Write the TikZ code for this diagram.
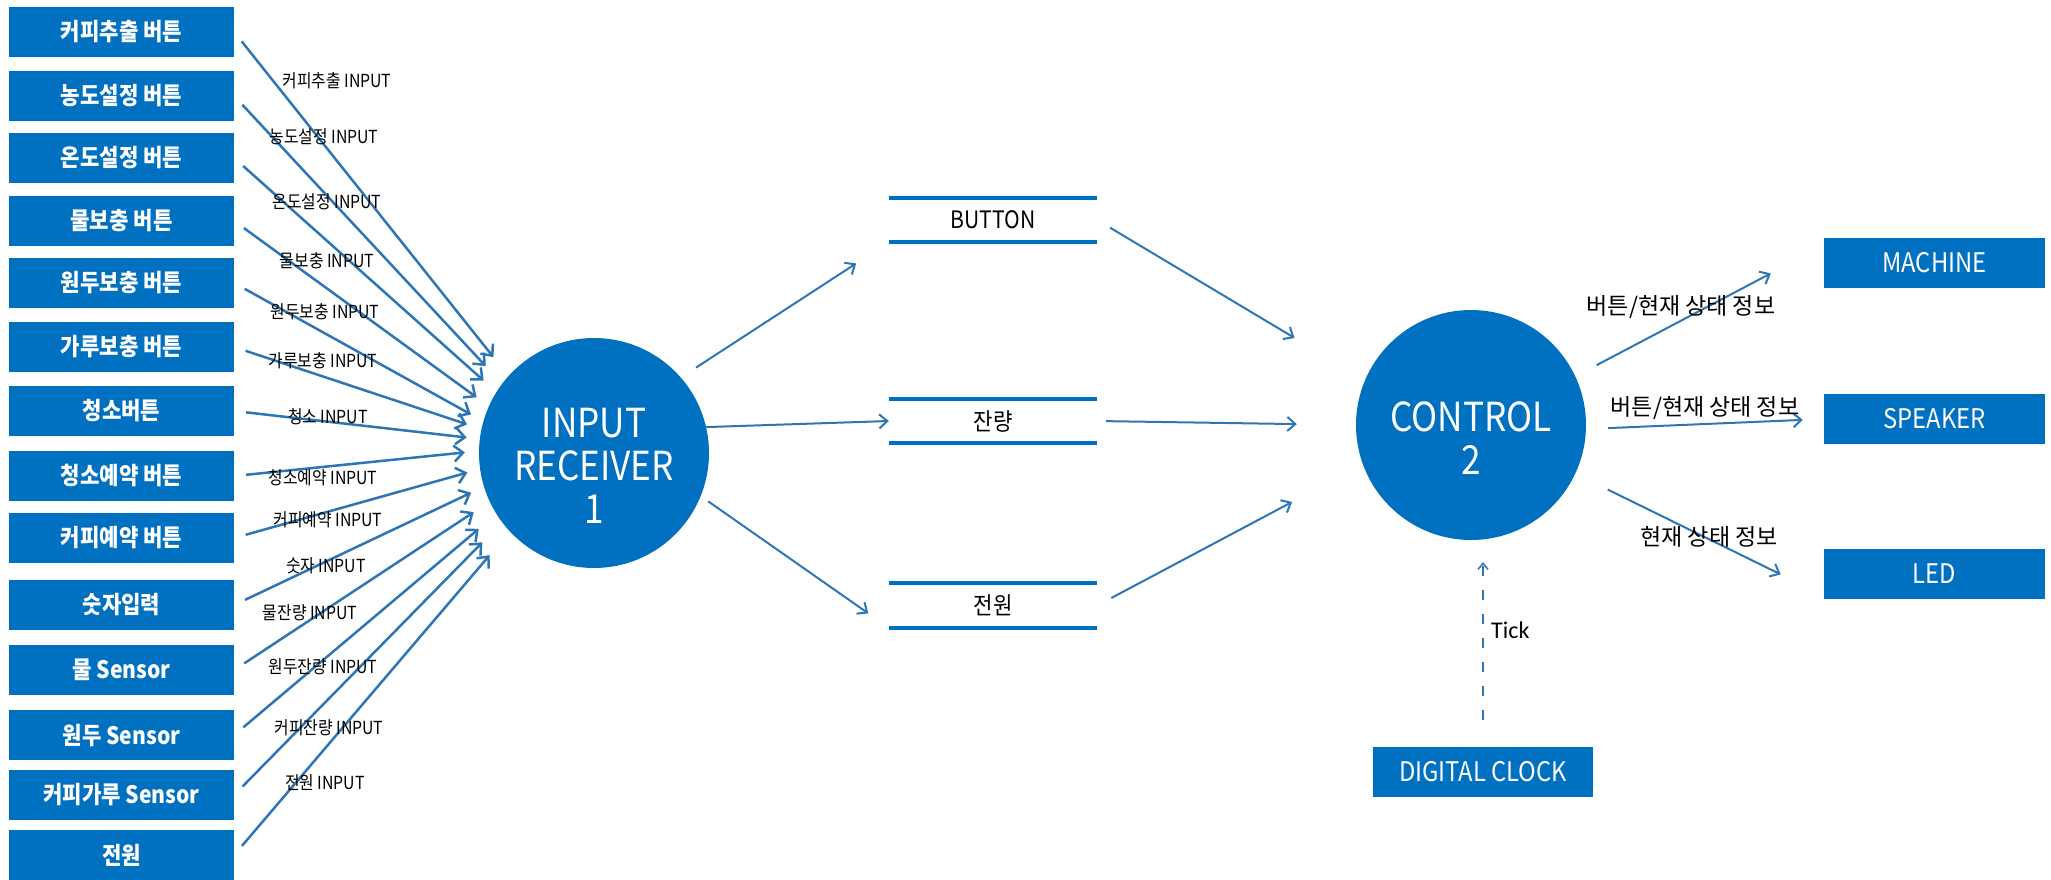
\documentclass[tikz,border=0pt]{standalone}
\usepackage{fontspec}
\setmainfont[FakeStretch=0.88]{Noto Sans CJK KR}
\newfontfamily\krwide{Noto Sans CJK KR}
\newfontfamily\tickfont{Carlito}
\usetikzlibrary{arrows.meta}
\usetikzlibrary{positioning}
\definecolor{boxblue}{RGB}{0,112,192}
\definecolor{arrowblue}{RGB}{46,117,182}

\tikzset{
  inbox/.style={fill=boxblue, text=white, minimum width=225pt, minimum height=50pt,
    inner sep=0pt, font=\fontsize{24}{26}\selectfont\bfseries},
  inlabel/.style={inner sep=0pt, font=\fontsize{18}{20}\selectfont},
  bubble/.style={circle, fill=boxblue, minimum size=230pt, inner sep=0pt},
  bubbletext/.style={text=white, align=center, yshift=-13pt, font=\fontsize{40}{43}\selectfont},
  store/.style={minimum width=208pt, minimum height=44pt, inner sep=0pt,
    font=\fontsize{24}{26}\selectfont},
  storeline/.style={boxblue, line width=4pt},
  outbox/.style={fill=boxblue, text=white, minimum width=221pt, minimum height=50pt,
    inner sep=0pt, font=\fontsize{27}{29}\selectfont},
  outlabel/.style={inner sep=0pt, font=\krwide\fontsize{23}{25}\selectfont},
  fan/.style={arrowblue, line width=2.5pt, -{Straight Barb[length=9pt, width=16pt]}},
  flow/.style={arrowblue, line width=2pt, -{Straight Barb[length=8pt, width=14pt]}},
  tickflow/.style={arrowblue, line width=1.5pt, dash pattern=on 10pt off 14pt,
    -{Straight Barb[length=6pt, width=10pt]}}
}

\begin{document}
\begin{tikzpicture}[x=1pt, y=-1pt]
  \useasboundingbox (0, 0) rectangle (2051, 879);

  % inputs on the left
  \foreach \i/\y/\txt in {1/32/커피추출 버튼, 2/96/농도설정 버튼, 3/158/온도설정 버튼,
      4/221/물보충 버튼, 5/283/원두보충 버튼, 6/347/가루보충 버튼, 7/411/청소버튼,
      8/476/청소예약 버튼, 9/538/커피예약 버튼, 10/605/숫자입력, 11/670/물 Sensor,
      12/735/원두 Sensor, 13/795/커피가루 Sensor, 14/855/전원} {
    \node[inbox] (in\i) at (121.5, \y) {\txt};
  }

  \node[bubble, label={[bubbletext]center:INPUT\\RECEIVER\\1}] (receiver) at (594, 453) {};
  \node[bubble, label={[bubbletext]center:CONTROL\\2}] (control) at (1471, 425) {};

  % stores
  \node[store] (button) at (993, 220) {BUTTON};
  \node[store] (remain) at (993, 421) {잔량};
  \node[store] (power) at (993, 605.5) {전원};
  \foreach \s in {button, remain, power} {
    \draw[storeline] (\s.north west) -- (\s.north east);
    \draw[storeline] (\s.south west) -- (\s.south east);
  }

  % outputs
  \node[outbox] (machine) at (1934.5, 263) {MACHINE};
  \node[outbox] (speaker) at (1934.5, 419) {SPEAKER};
  \node[outbox] (led) at (1934.5, 574) {LED};
  \node[outbox, minimum width=220pt] (clock) at (1483, 772) {DIGITAL CLOCK};

  % input arrows
  \foreach \i/\ang/\gap in {1/138/24pt, 2/143/24pt, 3/148/17pt, 4/156/15pt, 5/164/14pt,
      6/168/15pt, 7/173/13pt, 8/179/14pt, 9/188/13pt, 10/197/14pt, 11/205/19pt,
      12/212/23pt, 13/217/28pt, 14/223/31pt} {
    \draw[fan, shorten <=12pt, shorten >=\gap] (in\i.east) -- (receiver.\ang);
  }

  \foreach \i/\x/\y/\txt in {1/337/81/커피추출 INPUT, 2/324/137/농도설정 INPUT,
      3/327/202/온도설정 INPUT, 4/327/261/물보충 INPUT, 5/325/312/원두보충 INPUT,
      6/323/361/가루보충 INPUT, 7/328/417/청소 INPUT, 8/323/478/청소예약 INPUT,
      9/328/520/커피예약 INPUT, 10/326/566/숫자 INPUT, 11/310/613/물잔량 INPUT,
      12/323/667/원두잔량 INPUT, 13/329/728/커피잔량 INPUT, 14/325/783/전원 INPUT} {
    \node[inlabel] (lbl\i) at (\x, \y) {\txt};
  }

  % receiver to stores
  \draw[flow, shorten <=18pt, shorten >=39pt] (receiver.41) -- (button.south west);
  \draw[flow] (receiver.13) -- (remain.west);
  \draw[flow, shorten <=9pt, shorten >=25pt] (receiver.-22) -- (power.south west);

  % stores to control
  \draw[flow, shorten <=15pt, shorten >=82pt] (button.east) -- (control.157);
  \draw[flow, shorten <=9pt, shorten >=59pt] (remain.east) -- (control.180);
  \draw[flow, shorten <=16pt, shorten >=80pt] (power.east) -- (control.200);

  % control to outputs
  \draw[flow, shorten <=24pt, shorten >=60pt] (control.25) -- (machine.171);
  \draw[flow, shorten <=22pt, shorten >=21pt] (control.-2) -- (speaker.west);
  \draw[flow, shorten <=36pt, shorten >=48pt] (control.-25) -- (led.191);

  \node[outlabel] (info1) at (1681, 307) {버튼/현재 상태 정보};
  \node[outlabel] (info2) at (1705, 408) {버튼/현재 상태 정보};
  \node[outlabel] (info3) at (1709, 537) {현재 상태 정보};

  % clock tick
  \draw[tickflow, shorten <=27pt, shorten >=22pt] (clock.north) -- (clock.north |- control.south);
  \node[anchor=west, inner sep=0pt, font=\tickfont\fontsize{24}{26}\selectfont] (tick) at (1491, 630) {Tick};
\end{tikzpicture}
\end{document}
